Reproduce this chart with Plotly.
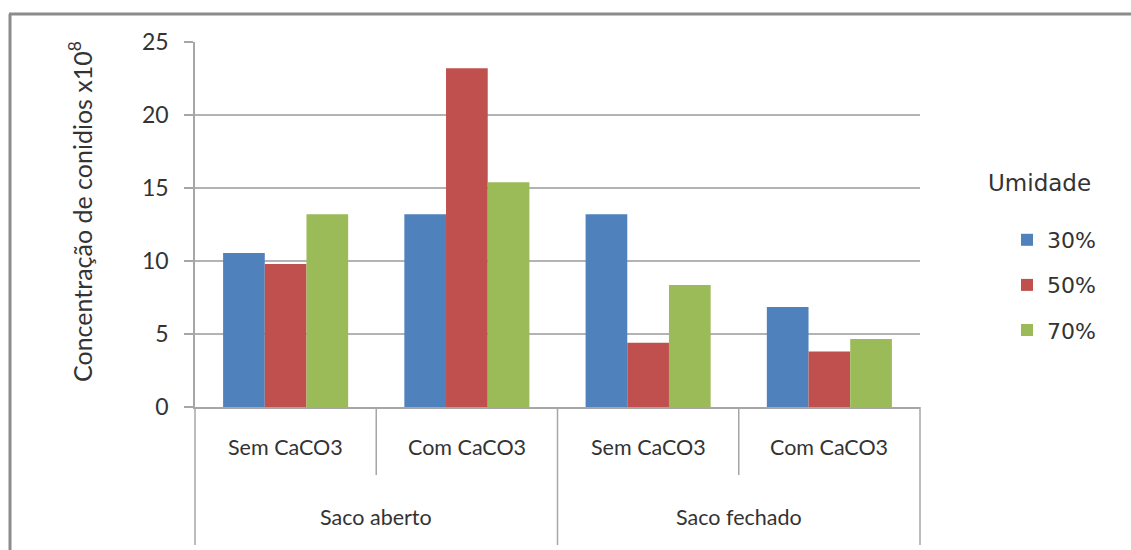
import plotly.graph_objects as go

outer = ["Saco aberto", "Saco aberto", "Saco fechado", "Saco fechado"]
inner = ["Sem CaCO3", "Com CaCO3", "Sem CaCO3", "Com CaCO3"]
outer_groups = ["Saco aberto", "Saco fechado"]
series_names = ["30%", "50%", "70%"]
v30 = [10.55, 13.2, 13.2, 6.85]
v50 = [9.8, 23.2, 4.4, 3.8]
v70 = [13.2, 15.4, 8.35, 4.65]
colors = ["#4F81BD", "#C0504D", "#9BBB59"]

W, H = 1131, 550
L, R, T, B = 195, 920, 42, 407

fig = go.Figure()
for i, (name, vals) in enumerate(zip(series_names, [v30, v50, v70])):
    fig.add_trace(go.Bar(x=[outer, inner], y=vals, name=name,
                         marker=dict(color=colors[i], line=dict(width=0)),
                         legendgroup=name))

font = "Lato, 'Open Sans', sans-serif"
lfont = "'DejaVu Sans', sans-serif"
txt = "#333333"
axc = "#a6a6a6"

def px_x(x):
    return (x - L) / (R - L)

def px_y(y):
    return (B - y) / (B - T)

n = len(inner)
annotations = [
    dict(text="Umidade", x=px_x(986), y=px_y(183), xref="paper", yref="paper",
         xanchor="left", yanchor="middle", showarrow=False,
         font=dict(family=lfont, size=23, color=txt)),
    dict(text="Concentração de conidios x10<sup>8</sup>", x=px_x(80), y=px_y(211),
         xref="paper", yref="paper", xanchor="center", yanchor="middle",
         textangle=-90, showarrow=False, font=dict(family=font, size=25, color=txt)),
]
for i, lab in enumerate(inner):
    annotations.append(dict(text=lab, x=(i + 0.5) / n, y=px_y(447), xref="paper", yref="paper",
                            xanchor="center", yanchor="middle", showarrow=False,
                            font=dict(family=font, size=21.5, color=txt)))
for j, lab in enumerate(outer_groups):
    annotations.append(dict(text=lab, x=(j + 0.5) / len(outer_groups), y=px_y(517),
                            xref="paper", yref="paper", xanchor="center", yanchor="middle",
                            showarrow=False, font=dict(family=font, size=21.5, color=txt)))

shapes = [
    dict(type="line", xref="paper", yref="paper", x0=px_x(9), x1=px_x(1135),
         y0=px_y(14), y1=px_y(14), line=dict(color="#8c8c8c", width=3)),
    dict(type="line", xref="paper", yref="paper", x0=px_x(10), x1=px_x(10),
         y0=px_y(14), y1=px_y(555), line=dict(color="#8c8c8c", width=3)),
]
for k in range(n + 1):
    bottom = 545 if k % 2 == 0 else 475
    shapes.append(dict(type="line", xref="paper", yref="paper", x0=k / n, x1=k / n,
                       y0=0, y1=px_y(bottom), line=dict(color=axc, width=1.5)))

fig.update_layout(
    width=W, height=H,
    margin=dict(l=L, r=W - R, t=T, b=H - B),
    paper_bgcolor="white", plot_bgcolor="white",
    barmode="group", bargap=0.31, bargroupgap=0,
    font=dict(family=font, size=18, color=txt),
    showlegend=True,
    legend=dict(x=px_x(1007), y=px_y(219), xanchor="left", yanchor="top",
                font=dict(family=lfont, size=22, color=txt), tracegroupgap=13.5,
                itemwidth=30, bgcolor="rgba(0,0,0,0)"),
    annotations=annotations,
    shapes=shapes,
)

fig.update_yaxes(range=[0, 25], dtick=5, showgrid=True, gridcolor="#b3b3b3", gridwidth=1.5,
                 showline=True, linecolor=axc, linewidth=1.5,
                 ticks="outside", ticklen=9, tickcolor=axc, tickwidth=1.5,
                 ticklabelstandoff=11,
                 tickfont=dict(size=23, color=txt), zeroline=False)

fig.update_xaxes(type="multicategory", showline=True, linecolor=axc, linewidth=1.5,
                 ticks="", showticklabels=False, showdividers=False)

fig.write_html("out.html")
